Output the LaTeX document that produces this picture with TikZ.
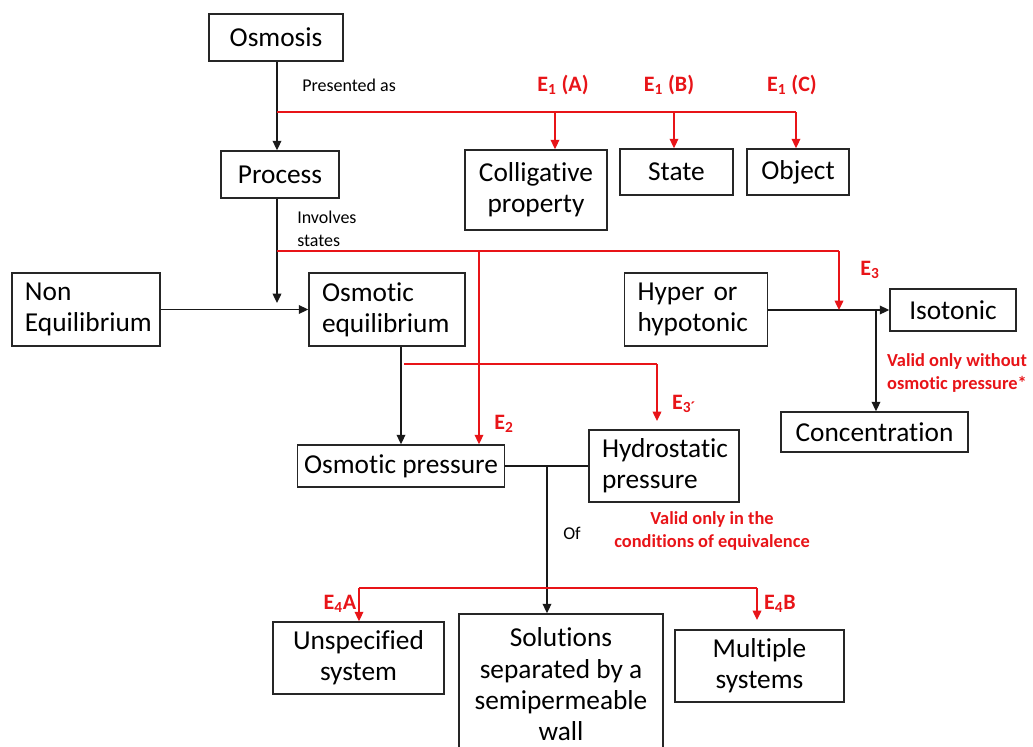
\documentclass[tikz,border=0pt]{standalone}
\usepackage{fontspec}
\setmainfont{Carlito}[Ligatures={NoCommon}]
\usetikzlibrary{arrows.meta}
\definecolor{ered}{RGB}{232,20,24}
\tikzset{
  box/.style={draw=black!85, line width=1.2pt, inner sep=0pt, align=center,
    font=\fontsize{20.5}{23.5}\selectfont},
  lbox/.style={box, align=left, inner xsep=9.75pt},
  conn/.style={line width=1pt, draw=black!90},
  arr/.style={conn, -{Triangle[length=7pt,width=6.5pt]}},
  rconn/.style={line width=1pt, draw=ered},
  rarr/.style={rconn, -{Triangle[length=7pt,width=6.5pt]}, ered},
  small/.style={font=\fontsize{13.5}{17}\selectfont, inner sep=0pt, align=left},
  rnote/.style={font=\fontsize{13.8}{17.5}\selectfont\bfseries, text=ered, inner sep=0pt, align=center},
  elab/.style={font=\fontsize{16.5}{18}\selectfont\bfseries, text=ered, inner sep=0pt},
}
\begin{document}
\begin{tikzpicture}[x=0.75pt,y=-0.75pt]
\useasboundingbox (0,0) rectangle (1033,747);
% boxes
\node[box, minimum width=100.5pt, minimum height=35.25pt] (osm) at (276,37.5) {Osmosis};
\node[box, minimum width=88.5pt, minimum height=35.25pt] (proc) at (280,174.5) {Process};
\node[box, minimum width=106.5pt, minimum height=60pt] (coll) at (536,190) {Colligative\\property};
\node[box, minimum width=84.75pt, minimum height=34.5pt] (state) at (676.5,172) {State};
\node[box, minimum width=76.5pt, minimum height=34.5pt] (obj) at (798,172) {Object};
\node[lbox, text width=91.5pt, minimum height=54.75pt] (noneq) at (86,309.5) {Non\\Equilibrium};
\node[lbox, text width=97.5pt, minimum height=54.75pt] (osmeq) at (387,309.5) {Osmotic\\equilibrium};
\node[lbox, text width=87.75pt, minimum height=54.75pt] (hyper) at (696,309.5) {Hyper or\\hypotonic};
\node[box, minimum width=94.5pt, minimum height=31.5pt] (iso) at (953,310) {Isotonic};
\node[box, minimum width=140.25pt, minimum height=30pt] (conc) at (874.5,432) {Concentration};
\node[box, minimum width=155.25pt, minimum height=31.5pt] (opress) at (401,466) {Osmotic pressure};
\node[lbox, text width=93pt, minimum height=54pt] (hydro) at (664,466) {Hydrostatic\\pressure};
\node[box, minimum width=128.25pt, minimum height=54pt] (unsp) at (358.5,658) {Unspecified\\system};
\node[box, minimum width=153pt, minimum height=105.75pt] (sol) at (561,684.5) {Solutions\\separated by a\\semipermeable\\wall};
\node[box, minimum width=126.75pt, minimum height=54pt] (mult) at (759.5,666) {Multiple\\systems};

% coordinates
\coordinate (p1) at (277,112);
\coordinate (qA) at (555,112);
\coordinate (qB) at (674,112);
\coordinate (qC) at (796,112);
\coordinate (p2) at (277,251);
\coordinate (k2) at (479,251);
\coordinate (k3) at (839,251);
\coordinate (k3e) at (839,310);
\coordinate (j1) at (277,303);
\coordinate (m1) at (404,364);
\coordinate (m2) at (657,364);
\coordinate (m2e) at (657,421);
\coordinate (t1) at (547,467);
\coordinate (s1) at (359,588);
\coordinate (s3) at (757,588);
\coordinate (s3e) at (757,620);
\coordinate (h1) at (876,310);
\coordinate (v1) at (401,0);

% black connectors
\draw[arr] (osm.south -| p1) -- (proc.north -| p1);
\draw[conn] (proc.south -| p1) -- (p2);
\draw[arr] (p2) -- (j1);
\draw[arr] (noneq.east) -- (osmeq.west);
\draw[arr] (osmeq.south -| v1) -- (opress.north -| v1);
\draw[conn, line width=2.2pt] (opress.east) -- (hydro.west);
\draw[arr] (t1) -- (sol.north -| t1);
\draw[arr] (hyper.east |- h1) -- (iso.west |- h1);
\draw[arr] (h1) -- (conc.north -| h1);

% red connectors
\draw[rconn] (p1) -- (qC);
\draw[rarr] (qA) -- (coll.north -| qA);
\draw[rarr] (qB) -- (state.north -| qB);
\draw[rarr] (qC) -- (obj.north -| qC);
\draw[rconn] (p2) -- (k3);
\draw[rarr] (k3) -- (k3e);
\draw[rarr] (k2) -- (opress.north -| k2);
\draw[rconn] (m1) -- (m2);
\draw[rarr] (m2) -- (m2e);
\draw[rconn] (s1) -- (s3);
\draw[rarr] (s1) -- (unsp.north -| s1);
\draw[rarr] (s3) -- (s3e);

% labels
\node[small, anchor=west] (lpres) at (302,85) {Presented as};
\node[small, anchor=north west] (linv) at (297,211) {Involves\\states};
\node[small] (lof) at (572,533) {Of};
\node[elab] (e1a) at (563,85) {E\textsubscript{1} (A)};
\node[elab] (e1b) at (669,85) {E\textsubscript{1} (B)};
\node[elab] (e1c) at (792,85) {E\textsubscript{1} (C)};
\node[elab] (e3) at (870,270) {E\textsubscript{3}};
\node[elab] (e2) at (504,424) {E\textsubscript{2}};
\node[elab] (e3p) at (684,404) {E\textsubscript{3\textasciiacute}};
\node[elab] (e4a) at (340,604) {E\textsubscript{4}A};
\node[elab] (e4b) at (780,604) {E\textsubscript{4}B};
\node[rnote] (n1) at (957,373) {Valid only without\\osmotic pressure*};
\node[rnote] (n2) at (712,531) {Valid only in the\\conditions of equivalence};
\end{tikzpicture}
\end{document}
